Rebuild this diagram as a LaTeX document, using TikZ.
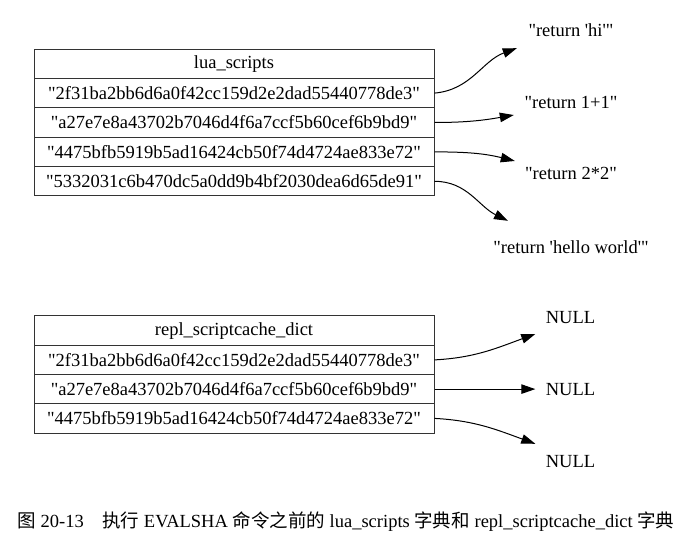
\documentclass[tikz,border=0pt]{standalone}
\usepackage{fontspec}
\setmainfont{Liberation Serif}
\newfontfamily\cjk{Noto Sans CJK SC}
\usetikzlibrary{arrows.meta}
\newcommand{\dq}{\textquotedbl}
\newcommand{\sq}{\textquotesingle}
\begin{document}
\begin{tikzpicture}[x=1pt,y=1pt,
  cell/.style={draw=black!80,line width=1pt,minimum width=400,minimum height=29.3,inner sep=0pt,font=\fontsize{18.5}{20}\selectfont},
  lbl/.style={inner sep=0pt,minimum height=36,font=\fontsize{18.5}{20}\selectfont},
  arr/.style={line width=1pt,-{Triangle[length=14pt,width=9.5pt]}}]
\useasboundingbox (0,0) rectangle (694,549);
% top table
\node[cell] (t0) at (234,485.3) {lua\_scripts};
\node[cell] (t1) at (234,455.9) {\dq 2f31ba2bb6d6a0f42cc159d2e2dad55440778de3\dq};
\node[cell] (t2) at (234,426.5) {\dq a27e7e8a43702b7046d4f6a7ccf5b60cef6b9bd9\dq};
\node[cell] (t3) at (234,397.1) {\dq 4475bfb5919b5ad16424cb50f74d4724ae833e72\dq};
\node[cell] (t4) at (234,367.7) {\dq 5332031c6b470dc5a0dd9b4bf2030dea6d65de91\dq};
\node[lbl,minimum width=108] (hi) at (571,519) {\dq return \sq hi\sq\dq};
\node[lbl,minimum width=114] (one) at (571,447) {\dq return 1+1\dq};
\node[lbl,minimum width=112] (two) at (571,376) {\dq return 2*2\dq};
\node[lbl,minimum height=52] (hello) at (571,302) {\dq return \sq hello world\sq\dq};
\draw[arr] (t1.east) to[out=5,in=200] (hi.south west);
\draw[arr] (t2.east) to[out=0,in=190] ([yshift=-13]one.west);
\draw[arr] (t3.east) to[out=0,in=166] ([yshift=12]two.west);
\draw[arr] (t4.east) to[out=0,in=154] ([xshift=-63]hello.north);
% bottom table
\node[cell] (b0) at (234,218.4) {repl\_scriptcache\_dict};
\node[cell] (b1) at (234,189.1) {\dq 2f31ba2bb6d6a0f42cc159d2e2dad55440778de3\dq};
\node[cell] (b2) at (234,159.9) {\dq a27e7e8a43702b7046d4f6a7ccf5b60cef6b9bd9\dq};
\node[cell] (b3) at (234,130.6) {\dq 4475bfb5919b5ad16424cb50f74d4724ae833e72\dq};
\node[lbl,minimum width=70] (n1) at (570.5,231) {NULL};
\node[lbl,minimum width=70] (n2) at (570.5,159.9) {NULL};
\node[lbl,minimum width=70] (n3) at (570.5,87) {NULL};
\draw[arr] (b1.east) to[out=3,in=200] ([yshift=-16]n1.west);
\draw[arr] (b2.east) -- (n2.west);
\draw[arr] (b3.east) to[out=-3,in=160] (n3.north west);
% caption
\node[inner sep=0pt,font=\fontsize{18.5}{20}\selectfont] (cap) at (346,27) {{\cjk 图} 20-13\hspace{1em}{\cjk 执行} EVALSHA {\cjk 命令之前的} lua\_scripts {\cjk 字典和} repl\_scriptcache\_dict {\cjk 字典}};
\end{tikzpicture}
\end{document}
